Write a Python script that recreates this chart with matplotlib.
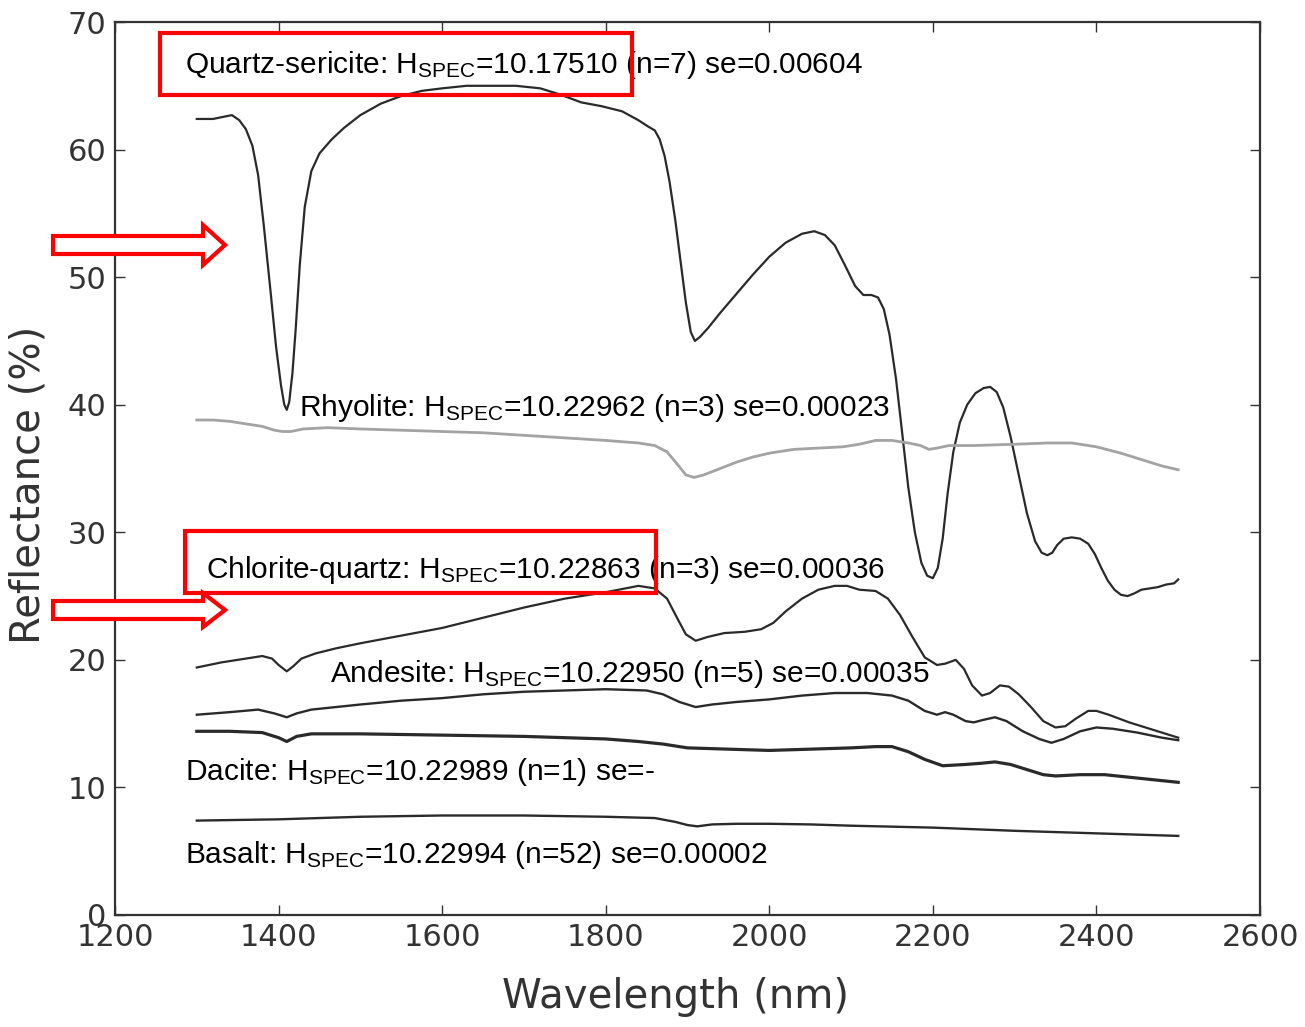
import matplotlib
matplotlib.use("Agg")
import matplotlib.pyplot as plt
from matplotlib.patches import Polygon, Rectangle
from matplotlib import font_manager

# ---------------- data ----------------
wl_qs = [1300, 1320, 1335, 1343, 1352, 1360, 1368, 1375, 1382, 1390, 1397, 1403, 1407, 1410, 1413,
         1417, 1421, 1426, 1432, 1440, 1450, 1465, 1480, 1500, 1525, 1550, 1575, 1600, 1630, 1660,
         1690, 1720, 1745, 1770, 1795, 1820, 1840, 1852, 1860, 1866, 1872, 1878, 1885, 1892, 1898,
         1904, 1909, 1915, 1925, 1940, 1960, 1980, 2000, 2020, 2040, 2055, 2068, 2080, 2092, 2105,
         2115, 2125, 2133, 2140, 2147, 2155, 2163, 2170, 2178, 2186, 2193, 2200, 2206, 2212, 2218,
         2225, 2233, 2242, 2252, 2262, 2270, 2278, 2286, 2295, 2305, 2315, 2325, 2333, 2340, 2346,
         2352, 2360, 2370, 2380, 2390, 2398, 2406, 2414, 2422, 2430, 2438, 2446, 2455, 2465, 2475,
         2485, 2495, 2500]
r_qs = [62.4, 62.4, 62.6, 62.7, 62.3, 61.6, 60.3, 58.0, 54.0, 49.0, 44.5, 41.5, 40.0, 39.6, 40.2,
        42.5, 46.0, 51.0, 55.5, 58.3, 59.7, 60.8, 61.7, 62.7, 63.6, 64.2, 64.6, 64.8, 65.0, 65.0,
        65.0, 64.8, 64.3, 63.7, 63.4, 63.0, 62.3, 61.8, 61.5, 60.8, 59.5, 57.5, 54.5, 51.0, 48.0,
        45.7, 45.0, 45.3, 46.0, 47.2, 48.7, 50.2, 51.6, 52.7, 53.4, 53.6, 53.3, 52.5, 51.0, 49.3,
        48.6, 48.6, 48.4, 47.5, 45.5, 42.0, 37.5, 33.5, 30.0, 27.6, 26.6, 26.4, 27.2, 29.5, 33.0,
        36.3, 38.6, 40.0, 40.9, 41.3, 41.4, 41.0, 39.8, 37.5, 34.5, 31.5, 29.3, 28.4, 28.2, 28.4,
        29.0, 29.5, 29.6, 29.5, 29.1, 28.3, 27.2, 26.2, 25.5, 25.1, 25.0, 25.2, 25.5, 25.6, 25.7,
        25.9, 26.0, 26.3]

wl_rhy = [1300, 1320, 1340, 1360, 1380, 1395, 1405, 1415, 1430, 1460, 1500, 1550, 1600, 1650, 1700,
          1750, 1800, 1840, 1860, 1875, 1888, 1898, 1908, 1920, 1940, 1960, 1980, 2000, 2030, 2060,
          2090, 2110, 2130, 2150, 2170, 2185, 2195, 2205, 2220, 2250, 2300, 2340, 2370, 2400, 2430,
          2460, 2480, 2500]
r_rhy = [38.8, 38.8, 38.7, 38.5, 38.3, 38.0, 37.9, 37.9, 38.1, 38.2, 38.1, 38.0, 37.9, 37.8, 37.6,
         37.4, 37.2, 37.0, 36.8, 36.3, 35.3, 34.5, 34.3, 34.5, 35.0, 35.5, 35.9, 36.2, 36.5, 36.6,
         36.7, 36.9, 37.2, 37.2, 37.0, 36.8, 36.5, 36.6, 36.8, 36.8, 36.9, 37.0, 37.0, 36.7, 36.2,
         35.6, 35.2, 34.9]

wl_cq = [1300, 1330, 1360, 1380, 1392, 1400, 1410, 1418, 1428, 1445, 1470, 1500, 1550, 1600, 1650,
         1700, 1750, 1800, 1840, 1860, 1875, 1888, 1898, 1910, 1925, 1945, 1970, 1990, 2005, 2020,
         2040, 2060, 2080, 2095, 2110, 2130, 2145, 2160, 2175, 2190, 2205, 2215, 2228, 2238, 2248,
         2260, 2270, 2282, 2293, 2305, 2320, 2335, 2350, 2362, 2375, 2390, 2400, 2415, 2440, 2470,
         2500]
r_cq = [19.4, 19.8, 20.1, 20.3, 20.1, 19.6, 19.1, 19.5, 20.1, 20.5, 20.9, 21.3, 21.9, 22.5, 23.3,
        24.1, 24.8, 25.3, 25.8, 25.6, 24.8, 23.2, 22.0, 21.5, 21.8, 22.1, 22.2, 22.4, 22.9, 23.8,
        24.8, 25.5, 25.8, 25.8, 25.5, 25.4, 24.8, 23.5, 21.8, 20.2, 19.6, 19.7, 20.0, 19.3, 18.0,
        17.2, 17.4, 18.0, 17.9, 17.3, 16.3, 15.2, 14.7, 14.8, 15.4, 16.0, 16.0, 15.7, 15.1, 14.5,
        13.9]

wl_and = [1300, 1340, 1375, 1395, 1410, 1422, 1440, 1500, 1550, 1600, 1650, 1700, 1750, 1800, 1850,
          1870, 1890, 1910, 1930, 1960, 2000, 2040, 2080, 2120, 2150, 2170, 2190, 2205, 2215, 2225,
          2240, 2250, 2262, 2276, 2290, 2310, 2330, 2345, 2360, 2380, 2400, 2420, 2450, 2480, 2500]
r_and = [15.7, 15.9, 16.1, 15.8, 15.5, 15.8, 16.1, 16.5, 16.8, 17.0, 17.3, 17.5, 17.6, 17.7, 17.6,
         17.3, 16.7, 16.3, 16.5, 16.7, 16.9, 17.2, 17.4, 17.4, 17.2, 16.8, 16.0, 15.7, 15.9, 15.7,
         15.2, 15.1, 15.3, 15.5, 15.2, 14.4, 13.8, 13.5, 13.8, 14.4, 14.7, 14.6, 14.3, 13.9, 13.7]

wl_dac = [1300, 1340, 1380, 1400, 1410, 1422, 1440, 1500, 1600, 1700, 1800, 1840, 1870, 1900, 1950,
          2000, 2050, 2100, 2130, 2150, 2170, 2190, 2212, 2240, 2260, 2276, 2295, 2315, 2335, 2350,
          2380, 2410, 2440, 2470, 2500]
r_dac = [14.4, 14.4, 14.3, 13.9, 13.6, 14.0, 14.2, 14.2, 14.1, 14.0, 13.8, 13.6, 13.4, 13.1, 13.0,
         12.9, 13.0, 13.1, 13.2, 13.2, 12.8, 12.2, 11.7, 11.8, 11.9, 12.0, 11.8, 11.4, 11.0, 10.9,
         11.0, 11.0, 10.8, 10.6, 10.4]

wl_bas = [1300, 1400, 1500, 1600, 1700, 1800, 1860, 1885, 1900, 1912, 1930, 1960, 2000, 2050, 2100,
          2200, 2300, 2400, 2500]
r_bas = [7.4, 7.5, 7.7, 7.8, 7.8, 7.7, 7.6, 7.3, 7.05, 6.95, 7.1, 7.15, 7.15, 7.1, 7.0,
         6.85, 6.6, 6.4, 6.2]

labels = [
    r"Quartz-sericite: H$_{\mathrm{SPEC}}$=10.17510 (n=7) se=0.00604",
    r"Rhyolite: H$_{\mathrm{SPEC}}$=10.22962 (n=3) se=0.00023",
    r"Chlorite-quartz: H$_{\mathrm{SPEC}}$=10.22863 (n=3) se=0.00036",
    r"Andesite: H$_{\mathrm{SPEC}}$=10.22950 (n=5) se=0.00035",
    r"Dacite: H$_{\mathrm{SPEC}}$=10.22989 (n=1) se=-",
    r"Basalt: H$_{\mathrm{SPEC}}$=10.22994 (n=52) se=0.00002",
]
label_pos = [(1286, 66.0), (1425, 39.1), (1311, 26.4), (1463, 18.3), (1286, 10.6), (1286, 4.1)]

x_ticks = [1200, 1400, 1600, 1800, 2000, 2200, 2400, 2600]
y_ticks = [0, 10, 20, 30, 40, 50, 60, 70]

# ---------------- style ----------------
names = {f.name for f in font_manager.fontManager.ttflist}
label_font = "Liberation Sans Narrow" if "Liberation Sans Narrow" in names else "DejaVu Sans"
label_size = 39 if label_font == "Liberation Sans Narrow" else 29

plt.rcParams["mathtext.fontset"] = "custom"
plt.rcParams["mathtext.rm"] = "Liberation Sans"
plt.rcParams["mathtext.it"] = "Liberation Sans:italic"
plt.rcParams["mathtext.bf"] = "Liberation Sans:bold"

W, H = 1305, 1027
fig = plt.figure(figsize=(W / 100, H / 100), dpi=100)
ax = fig.add_axes([115 / W, 1 - 915 / H, 1145 / W, 893 / H])

dark = "#2a2a2a"
ax.plot(wl_qs, r_qs, color=dark, lw=1.6)
ax.plot(wl_rhy, r_rhy, color="#a3a3a3", lw=2.0)
ax.plot(wl_cq, r_cq, color=dark, lw=1.6)
ax.plot(wl_and, r_and, color=dark, lw=1.7)
ax.plot(wl_dac, r_dac, color=dark, lw=2.3)
ax.plot(wl_bas, r_bas, color=dark, lw=1.7)

for txt, (lx, ly) in zip(labels, label_pos):
    ax.text(lx, ly, txt, fontsize=21.5, family="Liberation Sans", color="black",
            ha="left", va="baseline")

ax.set_xlim(1200, 2600)
ax.set_ylim(0, 70)
ax.set_xticks(x_ticks)
ax.set_yticks(y_ticks)
ax.tick_params(direction="in", length=7, width=1.0, top=True, right=True,
               labelsize=22, colors="#333333", pad=6)
for lab in ax.get_xticklabels() + ax.get_yticklabels():
    lab.set_family("DejaVu Sans")
for s in ax.spines.values():
    s.set_color("#333333")
    s.set_linewidth(1.6)

ax.set_xlabel("Wavelength (nm)", fontsize=label_size, family=label_font, color="#333333")
ax.set_ylabel("Reflectance (%)", fontsize=label_size, family=label_font, color="#333333")
ax.xaxis.set_label_coords((676 - 115) / 1145, -(997 - 915) / 893)
ax.yaxis.set_label_coords(-(115 - 29) / 1145, (915 - 485) / 893)
ax.xaxis.label.set_va("center")
ax.yaxis.label.set_va("center")

# ---------------- red highlight boxes (axes fraction) ----------------
red = "#ff0000"
for (x0, y0, x1, y1) in [(160, 33, 632, 95), (185, 531, 656, 593)]:
    ax.add_patch(Rectangle(((x0 - 115) / 1145, (915 - y1) / 893), (x1 - x0) / 1145, (y1 - y0) / 893,
                           transform=ax.transAxes, fill=False, edgecolor=red, lw=3.0,
                           clip_on=False, zorder=5))

# ---------------- hollow red arrows (figure pixels -> fraction) ----------------
def arrow(yc, half_body, half_head):
    pts = [(53, yc - half_body), (203, yc - half_body), (203, yc - half_head), (225, yc),
           (203, yc + half_head), (203, yc + half_body), (53, yc + half_body)]
    return Polygon([(px / W, 1 - py / H) for px, py in pts], closed=True,
                   transform=fig.transFigure, facecolor="white", edgecolor=red, lw=3.0, zorder=6)

fig.patches.append(arrow(245, 9, 20))
fig.patches.append(arrow(610, 9, 17))

fig.savefig("out.png", dpi=100)
